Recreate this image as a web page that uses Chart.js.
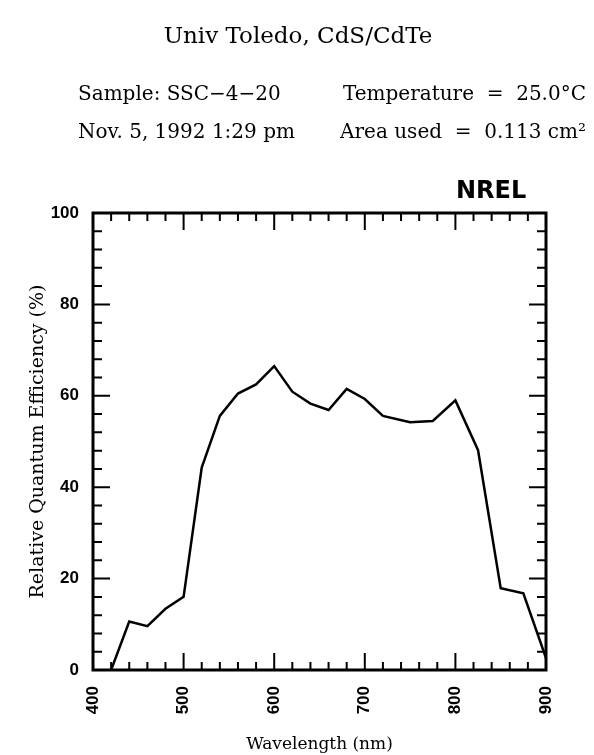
<!DOCTYPE html>
<html>
<head>
<meta charset="utf-8">
<title>Univ Toledo, CdS/CdTe</title>
<script src="https://cdn.jsdelivr.net/npm/chart.js@4.4.1/dist/chart.umd.min.js"></script>
<style>
    html, body { margin: 0; padding: 0; background: #ffffff; }
    #wrap { width: 594px; height: 755px; }
</style>
</head>
<body>
<div id="wrap"><canvas id="qeChart" width="594" height="755"></canvas></div>
<script>

// --------------------------------------------
// Measured data
// --------------------------------------------

const wavelengthNm = [420, 440, 460, 480, 500, 520, 540, 560, 580, 600, 620, 640,
                      660, 680, 700, 720, 750, 775, 800, 825, 850, 875, 900];

const relativeQE = [0, 10.6, 9.6, 13.4, 16.0, 44.3, 55.6, 60.5, 62.5, 66.5, 60.9, 58.3,
                    56.9, 61.5, 59.3, 55.6, 54.2, 54.5, 59.0, 48.1, 17.9, 16.8, 2.6];

const xTickLabels = [400, 500, 600, 700, 800, 900];

const yTickLabels = [0, 20, 40, 60, 80, 100];

const headerLeft = ["Sample: SSC\u22124\u221220", "Nov. 5, 1992 1:29 pm"];

const headerRight = ["Temperature  =  25.0\u00B0C", "Area used  =  0.113 cm\u00B2"];


// --------------------------------------------
// Fonts
// --------------------------------------------

const serif = "'DejaVu Serif', 'Liberation Serif', serif";

const tickFont = {
    family: "'Liberation Sans Narrow', 'Liberation Sans', Arial, sans-serif",
    size: 17,
    weight: "bold"
};


// --------------------------------------------
// Header text + NREL mark
// --------------------------------------------

const headerText = {

    id: "headerText",

    afterDraw(chart) {

        const ctx = chart.ctx;

        ctx.save();
        ctx.fillStyle = "#000";
        ctx.textBaseline = "alphabetic";

        ctx.font = "23px " + serif;
        ctx.textAlign = "center";
        ctx.fillText("Univ Toledo, CdS/CdTe", 298, 43);

        ctx.font = "20px " + serif;
        ctx.textAlign = "left";
        ctx.fillText(headerLeft[0], 78, 100);
        ctx.fillText(headerLeft[1], 78, 138);

        ctx.textAlign = "right";
        ctx.fillText(headerRight[0], 586, 100);
        ctx.fillText(headerRight[1], 586, 138);

        ctx.textAlign = "left";
        ctx.font = "900 24px 'DejaVu Sans', sans-serif";
        ctx.fillText("NREL", 456, 198);

        ctx.restore();

    }

};


// --------------------------------------------
// Frame with inward ticks on all four sides
// --------------------------------------------

const frameTicks = {

    id: "frameTicks",

    afterDatasetsDraw(chart) {

        const { ctx, chartArea: a, scales } = chart;

        const xs = scales.x;
        const ys = scales.y;

        ctx.save();
        ctx.strokeStyle = "#000";
        ctx.lineCap = "butt";

        ctx.lineWidth = 3;
        ctx.strokeRect(a.left, a.top, a.right - a.left, a.bottom - a.top);

        ctx.lineWidth = 2;
        ctx.beginPath();

        for (let w = xTickLabels[0]; w <= xTickLabels[xTickLabels.length - 1]; w += 20) {

            const px = xs.getPixelForValue(w);
            const len = w % 100 === 0 ? 17 : 8;

            ctx.moveTo(px, a.bottom);
            ctx.lineTo(px, a.bottom - len);

            ctx.moveTo(px, a.top);
            ctx.lineTo(px, a.top + len);

        }

        for (let v = yTickLabels[0]; v <= yTickLabels[yTickLabels.length - 1]; v += 4) {

            const py = ys.getPixelForValue(v);
            const len = v % 20 === 0 ? 17 : 9;

            ctx.moveTo(a.left, py);
            ctx.lineTo(a.left + len, py);

            ctx.moveTo(a.right, py);
            ctx.lineTo(a.right - len, py);

        }

        ctx.stroke();
        ctx.restore();

    }

};


// --------------------------------------------
// Chart
// --------------------------------------------

const qeChart = new Chart(

    document.getElementById("qeChart"),

    {

        type: "scatter",

        data: {

            datasets: [{

                label: "Relative QE",

                data: wavelengthNm.map((w, i) => ({ x: w, y: relativeQE[i] })),

                showLine: true,

                borderColor: "#000",

                borderWidth: 2.5,

                pointRadius: 0,

                tension: 0

            }]

        },

        options: {

            responsive: false,

            animation: false,

            devicePixelRatio: 1,

            layout: {

                padding: { top: 213, right: 48, left: 0, bottom: 0 }

            },

            plugins: {

                legend: { display: false },

                tooltip: { enabled: false }

            },

            scales: {

                x: {

                    type: "linear",

                    min: 400,

                    max: 900,

                    grid: { display: false },

                    border: { display: false },

                    afterBuildTicks: scale => {
                        scale.ticks = xTickLabels.map(v => ({ value: v }));
                    },

                    afterFit: scale => { scale.height = 85; },

                    ticks: {

                        color: "#000",

                        font: tickFont,

                        minRotation: 90,

                        maxRotation: 90,

                        padding: 8

                    },

                    title: {

                        display: true,

                        text: "Wavelength (nm)",

                        color: "#000",

                        font: { family: serif, size: 17 },

                        padding: { top: 0, bottom: 0 }

                    }

                },

                y: {

                    min: 0,

                    max: 100,

                    grid: { display: false },

                    border: { display: false },

                    afterBuildTicks: scale => {
                        scale.ticks = yTickLabels.map(v => ({ value: v }));
                    },

                    afterFit: scale => { scale.width = 93; },

                    ticks: {

                        color: "#000",

                        font: tickFont,

                        padding: 6

                    },

                    title: {

                        display: true,

                        text: "Relative Quantum Efficiency (%)",

                        color: "#000",

                        font: { family: serif, size: 19 },

                        padding: { top: 27, bottom: 0 }

                    }

                }

            }

        },

        plugins: [frameTicks, headerText]

    }

);

</script>
</body>
</html>
